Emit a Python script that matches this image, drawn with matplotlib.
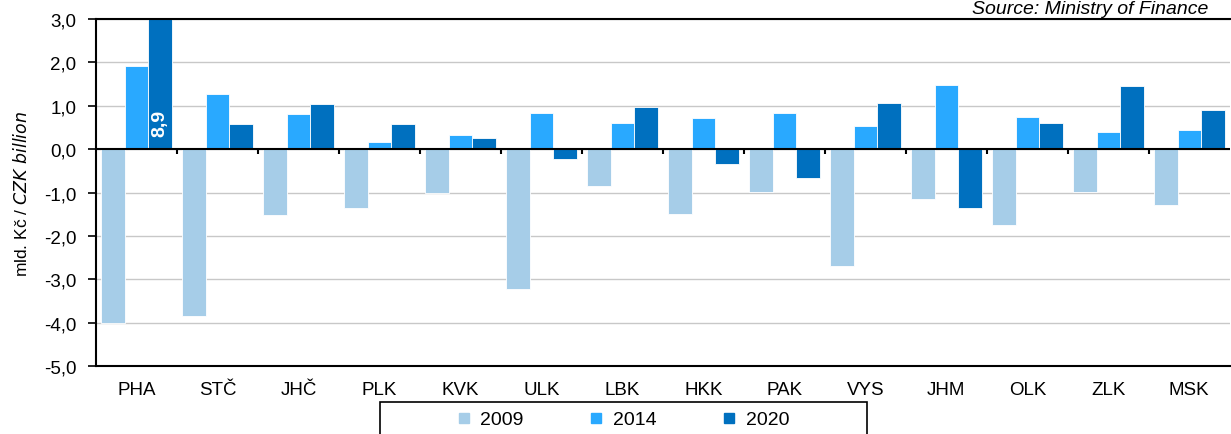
import matplotlib
matplotlib.use('Agg')
import matplotlib.pyplot as plt
import numpy as np
from matplotlib.lines import Line2D
from matplotlib.patches import Rectangle
from matplotlib.ticker import FuncFormatter

plt.rcParams['font.family'] = ['Liberation Sans', 'DejaVu Sans']
plt.rcParams['font.size'] = 13

regions = ['PHA', 'STČ', 'JHČ', 'PLK', 'KVK', 'ULK', 'LBK', 'HKK', 'PAK', 'VYS', 'JHM', 'OLK', 'ZLK', 'MSK']
y2009 = [-4.0, -3.85, -1.52, -1.36, -1.0, -3.23, -0.85, -1.5, -0.98, -2.7, -1.15, -1.74, -0.98, -1.28]
y2014 = [1.92, 1.27, 0.81, 0.17, 0.33, 0.84, 0.6, 0.71, 0.84, 0.53, 1.48, 0.74, 0.4, 0.44]
y2020 = [8.9, 0.58, 1.04, 0.58, 0.25, -0.22, 0.97, -0.33, -0.67, 1.07, -1.35, 0.6, 1.46, 0.91]
years = ['2009', '2014', '2020']
colors = ['#a6cde8', '#29a9ff', '#0070bf']

fig = plt.figure(figsize=(12.31, 4.35), dpi=100)
ax = fig.add_axes([0.078, 0.156, 0.921, 0.798])

x = np.arange(len(regions))
w = 0.29
for i, (vals, c, lab) in enumerate(zip([y2009, y2014, y2020], colors, years)):
    ax.bar(x + (i - 1) * w, vals, w, color=c, edgecolor='white', linewidth=0.6, label=lab, zorder=2)

# PHA 2020 is off the scale, so its value is written inside the bar
ax.text(x[0] + w, 0.62, f'{y2020[0]:.1f}'.replace('.', ','), rotation=90, color='white',
        fontweight='bold', ha='center', va='center', fontsize=14, zorder=3)

ax.set_xlim(-0.5, len(regions) - 0.5)
ax.set_ylim(-5, 3)
ax.set_yticks(np.arange(-5, 4, 1))
ax.yaxis.set_major_formatter(FuncFormatter(lambda v, p: f'{v:.1f}'.replace('.', ',')))
ax.grid(axis='y', color='#c8c8c8', linewidth=1, zorder=0)
ax.axhline(0, color='black', linewidth=1.5, zorder=3)
ax.vlines(x[1:] - 0.5, -0.12, 0, color='black', linewidth=1.5, zorder=3)

ax.set_xticks(x)
ax.set_xticklabels(regions)
ax.tick_params(axis='x', length=0, pad=11, labelsize=13.5)
ax.tick_params(axis='y', length=6, width=1.2, direction='out', labelsize=13.5, pad=8)

for s in ['left', 'bottom', 'top']:
    ax.spines[s].set_linewidth(1.5)
    ax.spines[s].set_color('black')
ax.spines['right'].set_visible(False)

ax.set_ylabel(r'mld. Kč / $\mathit{CZK\ billion}$', fontsize=12.5, labelpad=10)

fig.text(0.982, 0.998, 'Source: Ministry of Finance', ha='right', va='top', style='italic', fontsize=14)

handles = [Line2D([], [], marker='s', linestyle='', markersize=7, color=c) for c in colors]
fig.legend(handles, years, loc='center', bbox_to_anchor=(0.505, 0.033), ncol=3, frameon=False,
           handletextpad=0.35, columnspacing=3.25, fontsize=14, handlelength=1.0)
fig.patches.append(Rectangle((0.3087, -0.05), 0.3956, 0.124, transform=fig.transFigure,
                             fill=False, edgecolor='black', linewidth=1.2))

fig.savefig('out.png', dpi=100)
